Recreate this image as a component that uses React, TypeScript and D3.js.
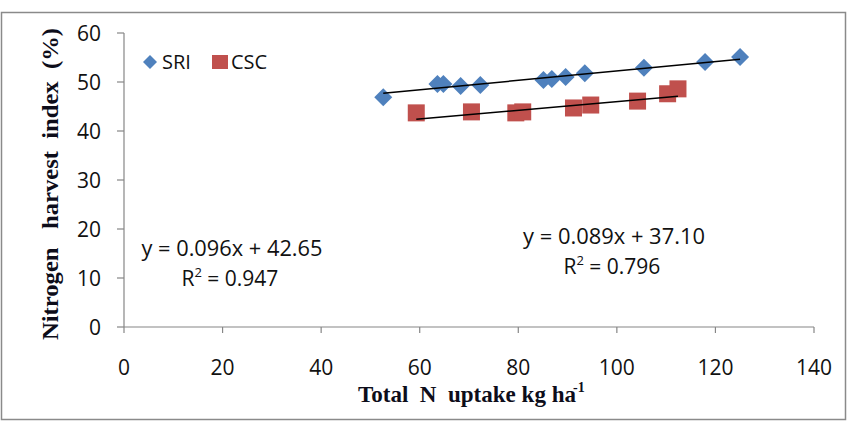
import React from "react";
import * as d3 from "d3";

// Total N uptake (kg/ha) vs nitrogen harvest index (%)
const sriUptake = [52.6, 63.6, 64.8, 68.3, 72.3, 85.1, 86.8, 89.6, 93.5, 105.5, 117.9, 125];
const sriNhi = [46.9, 49.6, 49.6, 49.2, 49.4, 50.4, 50.6, 51.0, 51.8, 52.9, 54.1, 55.1];
const cscUptake = [59.3, 70.5, 79.5, 80.9, 91.2, 94.7, 104.2, 110.3, 112.4];
const cscNhi = [43.7, 43.9, 43.7, 43.9, 44.7, 45.3, 46.1, 47.6, 48.6];

// linear fits: [slope, intercept, r²]
const sriFit = [0.096, 42.65, 0.947];
const cscFit = [0.089, 37.1, 0.796];

const xTicks = [0, 20, 40, 60, 80, 100, 120, 140];
const yTicks = [0, 10, 20, 30, 40, 50, 60];

const W = 853;
const H = 422;
const axisColor = "#868686";
const blue = "#4F81BD";
const red = "#C0504D";
const sans = "'Open Sans', 'Liberation Sans', Arial, sans-serif";
const serif = "'Liberation Serif', 'Times New Roman', serif";
const ink = "#111";

export default function App() {
  const x = d3.scaleLinear().domain([0, 140]).range([124, 814]);
  const y = d3.scaleLinear().domain([0, 60]).range([327, 33]);

  const sri = sriUptake.map((u, i) => ({ u, v: sriNhi[i] }));
  const csc = cscUptake.map((u, i) => ({ u, v: cscNhi[i] }));

  const line = d3
    .line<number[]>()
    .x((d) => x(d[0]))
    .y((d) => y(d[1]));
  const fitLine = (xs: number[], fit: number[]) => {
    const lo = d3.min(xs) as number;
    const hi = d3.max(xs) as number;
    return line([
      [lo, fit[0] * lo + fit[1]],
      [hi, fit[0] * hi + fit[1]],
    ]) as string;
  };

  const diamond = (cx: number, cy: number, r: number) =>
    `M${cx},${cy - r}L${cx + r},${cy}L${cx},${cy + r}L${cx - r},${cy}Z`;

  // equation + r² label pair
  const fitLabel = (fit: number[], cx: number, y1: number, w1: number, w2: number) => (
    <g fontFamily={sans} fontSize={21} fill={ink}>
      <text x={cx - w1 / 2} y={y1} textLength={w1} lengthAdjust="spacingAndGlyphs">
        {`y = ${fit[0].toFixed(3)}x + ${fit[1].toFixed(2)}`}
      </text>
      <text x={cx - w2 / 2} y={y1 + 30}>
        R<tspan dy={-9} fontSize={13}>2</tspan>
        <tspan dy={9}>{` = ${fit[2].toFixed(3)}`}</tspan>
      </text>
    </g>
  );

  return (
    <svg
      width={W}
      height={H}
      style={{ position: "absolute", left: 0, top: 0, background: "#fff" }}
    >
      {/* chart frame */}
      <rect x={1.5} y={12.5} width={844} height={407} fill="none" stroke="#8a8a8a" strokeWidth={1.5} />

      {/* y axis */}
      <line x1={124} x2={124} y1={y(60)} y2={y(0)} stroke={axisColor} strokeWidth={1.2} />
      {yTicks.map((t) => (
        <g key={"y" + t}>
          <line x1={117} x2={124} y1={y(t)} y2={y(t)} stroke={axisColor} strokeWidth={1.2} />
          <text
            x={101}
            y={y(t)}
            dy="0.36em"
            textAnchor="end"
            fontFamily={sans}
            fontSize={21}
            fill={ink}
          >
            {t}
          </text>
        </g>
      ))}

      {/* x axis */}
      <line x1={x(0)} x2={x(140)} y1={y(0)} y2={y(0)} stroke={axisColor} strokeWidth={1.2} />
      {xTicks.map((t) => (
        <g key={"x" + t}>
          <line x1={x(t)} x2={x(t)} y1={y(0)} y2={y(0) + 6} stroke={axisColor} strokeWidth={1.2} />
          <text
            x={x(t)}
            y={375}
            textAnchor="middle"
            fontFamily={sans}
            fontSize={21}
            fill={ink}
          >
            {t}
          </text>
        </g>
      ))}

      {/* axis titles */}
      <text
        x={358}
        y={402}
        fontFamily={serif}
        fontWeight="bold"
        fontSize={24}
        fill="#0d0d1a"
        textLength={218}
        lengthAdjust="spacingAndGlyphs"
        style={{ whiteSpace: "pre" }}
      >
        {"Total  N  uptake kg ha"}
      </text>
      <text x={573} y={392} fontFamily={serif} fontWeight="bold" fontSize={14} fill="#0d0d1a">
        -1
      </text>
      <text
        transform={`translate(58,184) rotate(-90)`}
        textAnchor="middle"
        fontFamily={serif}
        fontWeight="bold"
        fontSize={24}
        fill="#0d0d1a"
        textLength={312}
        lengthAdjust="spacingAndGlyphs"
        style={{ whiteSpace: "pre" }}
      >
        {"Nitrogen   harvest  index  (%)"}
      </text>

      {/* markers */}
      {sri.map((d, i) => (
        <path key={"s" + i} d={diamond(x(d.u), y(d.v), 9)} fill={blue} />
      ))}
      {csc.map((d, i) => (
        <rect
          key={"c" + i}
          x={x(d.u) - 8.5}
          y={y(d.v) - 8.5}
          width={17}
          height={17}
          fill={red}
        />
      ))}

      {/* trend lines */}
      <path d={fitLine(sriUptake, sriFit)} stroke="#000" strokeWidth={1.5} fill="none" />
      <path d={fitLine(cscUptake, cscFit)} stroke="#000" strokeWidth={1.5} fill="none" />

      {/* legend */}
      <path d={diamond(150, 62, 7)} fill={blue} />
      <text x={162} y={69} fontFamily={sans} fontSize={20} fill={ink}>SRI</text>
      <rect x={212} y={55} width={16} height={14} fill={red} />
      <text x={231} y={69} fontFamily={sans} fontSize={20} fill={ink}>CSC</text>

      {/* fit equations */}
      {fitLabel(sriFit, 232, 256, 181, 101)}
      {fitLabel(cscFit, 614, 244, 182, 101)}
    </svg>
  );
}
